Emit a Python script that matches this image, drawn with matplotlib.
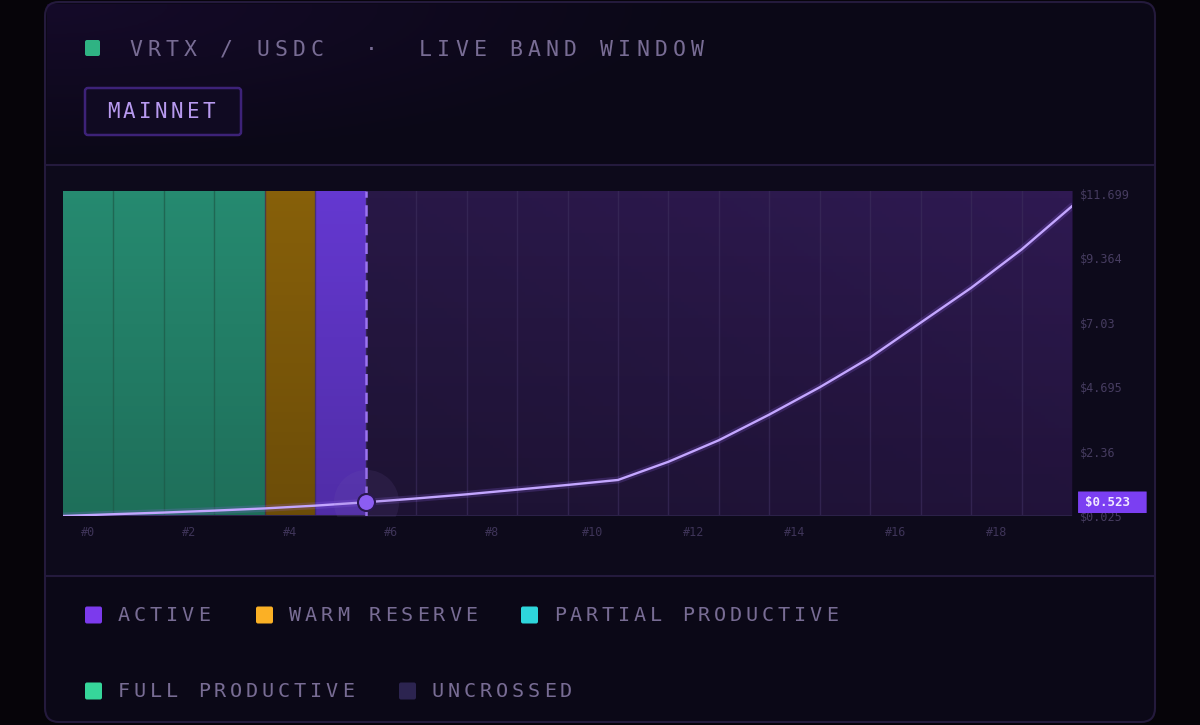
import numpy as np
import matplotlib.pyplot as plt
from matplotlib.patches import FancyBboxPatch, Rectangle
from matplotlib.transforms import blended_transform_factory

# band states, one per band #0..#19
band_state = ['full', 'full', 'full', 'full', 'warm', 'active',
              'uncrossed', 'uncrossed', 'uncrossed', 'uncrossed', 'uncrossed',
              'uncrossed', 'uncrossed', 'uncrossed', 'uncrossed', 'uncrossed',
              'uncrossed', 'uncrossed', 'uncrossed', 'uncrossed']
# price at each band edge (0..20)
edge_price = [0.025, 0.09, 0.15, 0.22, 0.30, 0.40, 0.523, 0.66, 0.81, 0.98,
              1.15, 1.33, 1.99, 2.77, 3.70, 4.69, 5.77, 7.03, 8.29, 9.68, 11.25]
active_edge = 6
current_price = 0.523
y_ticks = [0.025, 2.36, 4.695, 7.03, 9.364, 11.699]
y_labels = ['$0.025', '$2.36', '$4.695', '$7.03', '$9.364', '$11.699']
x_ticks = [0, 2, 4, 6, 8, 10, 12, 14, 16, 18]

legend_names = ['ACTIVE', 'WARM RESERVE', 'PARTIAL PRODUCTIVE', 'FULL PRODUCTIVE', 'UNCROSSED']
legend_colors = ['#7c3aed', '#fbb025', '#2ed6dc', '#36d69a', '#2c2450']

band_colors = {'full': '#268a70', 'warm': '#87600a', 'active': '#6438d0', 'uncrossed': '#261842'}

MONO = 'DejaVu Sans Mono'
TXT = '#786c94'


def spaced(ax, x, y, s, adv, **kw):
    # monospace text with extra letter spacing
    for i, c in enumerate(s):
        if c != ' ':
            ax.text(x + i * adv, y, c, ha='center', va='center', family=MONO, **kw)


fig = plt.figure(figsize=(12, 7.25), dpi=100)
fig.patch.set_facecolor('#060409')

bg = fig.add_axes([0, 0, 1, 1])
bg.set_xlim(0, 1200)
bg.set_ylim(725, 0)
bg.axis('off')

# card
bg.add_patch(FancyBboxPatch((45, 2), 1110, 720, boxstyle='round,pad=0,rounding_size=14',
                            fc='#0b0817', ec='#241a3c', lw=1.5))
# soft purple glow top-left of header
glow = np.zeros((60, 200, 4))
gx = np.linspace(0, 1, 200)[None, :]
gy = np.linspace(0, 1, 60)[:, None]
glow[..., 0] = 0.16
glow[..., 1] = 0.06
glow[..., 2] = 0.30
glow[..., 3] = 0.35 * np.clip(1 - np.sqrt(gx ** 2 + gy ** 2), 0, 1)
bg.imshow(glow, extent=(47, 700, 164, 4), aspect='auto', zorder=1)
bg.add_patch(Rectangle((46, 165), 1108, 411, fc='#0d0a1b', ec='none', zorder=1))
bg.plot([46, 1154], [165, 165], color='#241a3d', lw=1.5, zorder=2)
bg.plot([46, 1154], [576, 576], color='#241a3d', lw=1.5, zorder=2)

# header
bg.add_patch(FancyBboxPatch((85, 40), 15, 16, boxstyle='round,pad=0,rounding_size=2',
                            fc='#2fb383', ec='none', zorder=3))
spaced(bg, 136, 49.5, 'VRTX / USDC  \u00b7  LIVE BAND WINDOW', 18.1, fontsize=15.5, color=TXT, zorder=3)
bg.add_patch(FancyBboxPatch((85, 88), 156, 47, boxstyle='round,pad=0,rounding_size=3',
                            fc='#100a22', ec='#3d2278', lw=1.8, zorder=3))
spaced(bg, 113, 112, 'MAINNET', 16.0, fontsize=15, color='#b89af0', zorder=4)

# legend
leg_pos = [(85, 615), (256, 615), (521, 615), (85, 691), (399, 691)]
for (lx, ly), name, col in zip(leg_pos, legend_names, legend_colors):
    bg.add_patch(FancyBboxPatch((lx, ly - 8.5), 17, 17, boxstyle='round,pad=0,rounding_size=2',
                                fc=col, ec='none', zorder=3))
    spaced(bg, lx + 39, ly + 0.5, name, 16.0, fontsize=14.5, color=TXT, zorder=3)

# chart
ax = fig.add_axes([63 / 1200, 1 - 516 / 725, 1009 / 1200, 325 / 725])
ax.set_facecolor('#0d0a1b')
ymin, ymax = 0.025, 11.8
n = len(band_state)
ax.set_xlim(0, n)
ax.set_ylim(ymin, ymax)

for i, st in enumerate(band_state):
    ax.axvspan(i, i + 1, color=band_colors[st], lw=0, zorder=1)

# darken towards the bottom (row 0 is the bottom with origin='lower')
shade = np.zeros((100, 2, 4))
shade[..., 3] = np.linspace(0.2, 0.0, 100)[:, None]
ax.imshow(shade, extent=(0, active_edge, ymin, ymax), aspect='auto', origin='lower', zorder=2)

# purple wash over the uncrossed bands, stronger to the top right
wash = np.zeros((100, 200, 4))
u = np.linspace(0, 1, 200)[None, :]
v = np.linspace(0, 1, 100)[:, None]
wash[..., 0] = 0.24
wash[..., 1] = 0.11
wash[..., 2] = 0.42
wash[..., 3] = 0.4 * (0.6 * u + 0.4 * v) ** 1.3
ax.imshow(wash, extent=(active_edge, n, ymin, ymax), aspect='auto', origin='lower', zorder=2)
dark = np.zeros((100, 2, 4))
dark[..., 3] = np.linspace(0.22, 0.0, 100)[:, None]
ax.imshow(dark, extent=(active_edge, n, ymin, ymax), aspect='auto', origin='lower', zorder=2)

for i in range(1, n):
    c = '#1d5a48' if i < 4 else '#3a2b5a'
    ax.axvline(i, color=c, lw=1, alpha=0.7, zorder=3)
ax.axhline(ymin, color='#2b2148', lw=1.5, zorder=3)

ax.axvline(active_edge, color='#9c74f2', lw=1.8, ls=(0, (4.5, 3)), zorder=4)

edges = np.arange(len(edge_price))
ax.plot(edges, edge_price, color='#9466f0', lw=5, alpha=0.2, zorder=5, solid_capstyle='round')
ax.plot(edges, edge_price, color='#c3a6ff', lw=1.7, zorder=6)

# marker for current price with halo
ax.scatter([active_edge], [current_price], s=2200, color='#7a60b0', alpha=0.12, lw=0, zorder=6)
ax.scatter([active_edge], [current_price], s=150, color='#8c5df2', edgecolor='#2a1850',
           lw=1.5, zorder=7)

ax.set_xticks([t + 0.5 for t in x_ticks])
ax.set_xticklabels(['#%d' % t for t in x_ticks])
ax.yaxis.tick_right()
ax.set_yticks(y_ticks)
ax.set_yticklabels(y_labels)
ax.tick_params(axis='x', length=0, pad=7, labelsize=8.5, labelcolor='#3e3458')
ax.tick_params(axis='y', length=0, pad=6, labelsize=8.5, labelcolor='#463c60')
for lab in ax.get_xticklabels() + ax.get_yticklabels():
    lab.set_family(MONO)
for sp in ax.spines.values():
    sp.set_visible(False)

# price tag on the right axis
tr = blended_transform_factory(ax.transAxes, ax.transData)
ax.add_patch(FancyBboxPatch((1.006, current_price - 0.39), 0.068, 0.78, transform=tr,
                            boxstyle='round,pad=0,rounding_size=0.003', fc='#7b3ff2', ec='none',
                            clip_on=False, zorder=8))
ax.text(1.013, current_price, '$%.3f' % current_price, transform=tr, ha='left', va='center',
        family=MONO, fontsize=9, fontweight='bold', color='#f0e8ff', zorder=9)

fig.savefig('out.png', dpi=100, facecolor=fig.get_facecolor())
